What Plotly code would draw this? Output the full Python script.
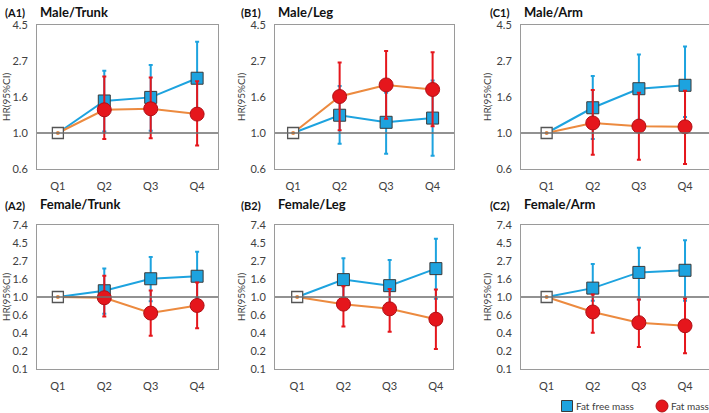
import numpy as np
import plotly.graph_objects as go

W, H = 709, 413

quartiles = ["Q1", "Q2", "Q3", "Q4"]

panel_ids = ["(A1)", "(B1)", "(C1)", "(A2)", "(B2)", "(C2)"]
panel_titles = ["Male/Trunk", "Male/Leg", "Male/Arm",
                "Female/Trunk", "Female/Leg", "Female/Arm"]

# hazard ratios (Q1 = reference)
ffm_hr = [[1, 1.56, 1.64, 2.14], [1, 1.28, 1.16, 1.23], [1, 1.42, 1.85, 1.94],
          [1, 1.19, 1.66, 1.78], [1, 1.62, 1.37, 2.20], [1, 1.28, 1.98, 2.10]]
ffm_lo = [[1.02, 1.03, 1.25], [0.86, 0.75, 0.73], [0.92, 1.20, 1.25],
          [0.63, 0.89, 0.98], [0.90, 0.70, 0.95], [0.90, 0.93, 0.90]]
ffm_hi = [[2.37, 2.57, 3.55], [1.92, 1.75, 2.07], [2.21, 2.98, 3.32],
          [2.20, 3.04, 3.52], [2.93, 2.79, 5.05], [2.50, 3.94, 4.83]]

fm_hr = [[1, 1.38, 1.40, 1.30], [1, 1.66, 1.95, 1.83], [1, 1.15, 1.10, 1.09],
         [1, 0.98, 0.64, 0.79], [1, 0.82, 0.72, 0.54], [1, 0.66, 0.49, 0.45]]
fm_lo = [[0.92, 0.93, 0.84], [1.04, 1.22, 1.10], [0.74, 0.69, 0.65],
         [0.58, 0.34, 0.42], [0.44, 0.38, 0.236], [0.37, 0.25, 0.21]]
fm_hi = [[2.19, 2.16, 2.05], [2.66, 3.12, 3.07], [1.82, 1.75, 1.80],
         [1.81, 1.20, 1.50], [1.35, 1.25, 1.23], [1.07, 0.93, 0.96]]

top_ticks = ["0.6", "1.0", "1.6", "2.7", "4.5"]
bottom_ticks = ["0.1", "0.2", "0.4", "0.6", "1.0", "1.6", "2.7", "4.5", "7.4"]

BLUE = "#1da3df"
RED = "#e5161c"
ORANGE = "#ec8a3f"
GREY = "#404040"
FONT = "Lato"

# plot areas in pixels: left, right, top, bottom, x-range
boxes = [
    (37, 218, 25, 169, [-0.45, 3.45]),
    (275, 454, 25, 169, [-0.39, 3.46]),
    (521, 709, 25, 169, [-0.556, 3.52]),
    (37, 218, 225, 369, [-0.45, 3.45]),
    (275, 453, 225, 369, [-0.48, 3.37]),
    (521, 709, 225, 369, [-0.556, 3.52]),
]


def px(x):
    return x / W


def py(y):
    return 1 - y / H


fig = go.Figure()
shapes = []
annotations = []

for i in range(6):
    n = "" if i == 0 else str(i + 1)
    xa, ya = "x" + n, "y" + n
    l, r, t, b, xr = boxes[i]

    # fat free mass
    fig.add_trace(go.Scatter(x=quartiles, y=ffm_hr[i], mode="lines",
                             line=dict(color=BLUE, width=2),
                             xaxis=xa, yaxis=ya, showlegend=False))
    fig.add_trace(go.Scatter(
        x=quartiles[1:], y=ffm_hr[i][1:], mode="markers",
        marker=dict(symbol="square", size=12, color=BLUE,
                    line=dict(color="#3a3a3a", width=1)),
        error_y=dict(type="data", symmetric=False,
                     array=[h - v for h, v in zip(ffm_hi[i], ffm_hr[i][1:])],
                     arrayminus=[v - lo for lo, v in zip(ffm_lo[i], ffm_hr[i][1:])],
                     color=BLUE, thickness=2, width=2),
        xaxis=xa, yaxis=ya, showlegend=False))

    # fat mass
    fig.add_trace(go.Scatter(x=quartiles, y=fm_hr[i], mode="lines",
                             line=dict(color=ORANGE, width=2),
                             xaxis=xa, yaxis=ya, showlegend=False))
    fig.add_trace(go.Scatter(
        x=quartiles[1:], y=fm_hr[i][1:], mode="markers",
        marker=dict(symbol="circle", size=14, color=RED,
                    line=dict(color="#b01015", width=1)),
        error_y=dict(type="data", symmetric=False,
                     array=[h - v for h, v in zip(fm_hi[i], fm_hr[i][1:])],
                     arrayminus=[v - lo for lo, v in zip(fm_lo[i], fm_hr[i][1:])],
                     color=RED, thickness=2, width=2),
        xaxis=xa, yaxis=ya, showlegend=False))

    # reference group
    fig.add_trace(go.Scatter(
        x=quartiles[:1], y=ffm_hr[i][:1], mode="markers",
        marker=dict(symbol="square", size=11, color="white",
                    line=dict(color="#555555", width=1.3)),
        xaxis=xa, yaxis=ya, showlegend=False))
    fig.add_trace(go.Scatter(
        x=quartiles[:1], y=fm_hr[i][:1], mode="markers",
        marker=dict(symbol="circle", size=4, color=ORANGE),
        xaxis=xa, yaxis=ya, showlegend=False))

    if i < 3:
        ln = np.arange(-0.5, 1.51, 0.5)
        labels = top_ticks
    else:
        ln = np.arange(-2, 2.01, 0.5)
        labels = bottom_ticks
    tickvals = np.exp(ln)

    fig.update_layout({
        ("xaxis" + n): dict(domain=[px(l), px(r)], anchor=ya, range=xr,
                             type="category", showline=True, mirror=True,
                             linecolor="#9a9a9a", linewidth=1, showgrid=False,
                             ticks="outside", ticklen=7, tickcolor="rgba(0,0,0,0)",
                             tickfont=dict(size=11, color=GREY, family=FONT),
                             zeroline=False, fixedrange=True, automargin=False),
        ("yaxis" + n): dict(domain=[py(b), py(t)], anchor=xa, type="log",
                             range=[ln[0] / np.log(10), ln[-1] / np.log(10)],
                             tickvals=tickvals, ticktext=labels,
                             showline=True, mirror=True, linecolor="#9a9a9a",
                             linewidth=1, showgrid=False, ticks="outside",
                             ticklen=6, tickcolor="rgba(0,0,0,0)",
                             tickfont=dict(size=11, color=GREY, family=FONT),
                             title=dict(text="HR(95%CI)", standoff=2,
                                        font=dict(size=10, color=GREY, family=FONT)),
                             fixedrange=True, automargin=False),
    })

    # horizontal axis crossing at HR = 1
    shapes.append(dict(type="line", xref=xa + " domain", yref=ya,
                       x0=0, x1=1, y0=1, y1=1,
                       line=dict(color="#6e6e6e", width=1.3)))
    for k in range(3):
        shapes.append(dict(type="line", xref=xa, yref=ya, x0=k + 0.5, x1=k + 0.5,
                           ysizemode="pixel", yanchor=1, y0=0, y1=-4,
                           line=dict(color="#6e6e6e", width=1)))

    ty = 12 if i < 3 else 204
    tx = {0: 3, 1: 239, 2: 488, 3: 3, 4: 239, 5: 488}[i]
    annotations.append(dict(text="<b>" + panel_ids[i] + "</b>", xref="paper", yref="paper",
                            x=px(tx), y=py(ty + 1),
                            xanchor="left", yanchor="middle", showarrow=False,
                            font=dict(size=11, color="#111111", family=FONT)))
    annotations.append(dict(text="<b>" + panel_titles[i] + "</b>", xref="paper", yref="paper",
                            x=px(l + 1), y=py(ty), xanchor="left", yanchor="middle",
                            showarrow=False,
                            font=dict(size=13, color="#111111", family=FONT)))

# legend drawn by hand at the bottom right
shapes.append(dict(type="rect", xref="paper", yref="paper", xsizemode="pixel",
                   ysizemode="pixel", xanchor=px(567), yanchor=py(406),
                   x0=-5.5, x1=5.5, y0=-5.5, y1=5.5, fillcolor=BLUE,
                   line=dict(color="#3a3a3a", width=1)))
shapes.append(dict(type="circle", xref="paper", yref="paper", xsizemode="pixel",
                   ysizemode="pixel", xanchor=px(662), yanchor=py(406),
                   x0=-6, x1=6, y0=-6, y1=6, fillcolor=RED,
                   line=dict(color="#b01015", width=1)))
annotations.append(dict(text="Fat free mass", xref="paper", yref="paper",
                        x=px(574), y=py(406), xanchor="left", yanchor="middle",
                        showarrow=False, font=dict(size=10, color=GREY, family=FONT)))
annotations.append(dict(text="Fat mass", xref="paper", yref="paper",
                        x=px(669), y=py(406), xanchor="left", yanchor="middle",
                        showarrow=False, font=dict(size=10, color=GREY, family=FONT)))

fig.update_layout(
    width=W, height=H,
    margin=dict(l=0, r=0, t=0, b=0, autoexpand=False),
    paper_bgcolor="white", plot_bgcolor="white",
    shapes=shapes, annotations=annotations,
    font=dict(family=FONT),
)

# drop the default page margin so the figure sits at the window's corner
fig.write_html("out.html", config={"displayModeBar": False},
               post_script="document.body.style.margin = '0';")
